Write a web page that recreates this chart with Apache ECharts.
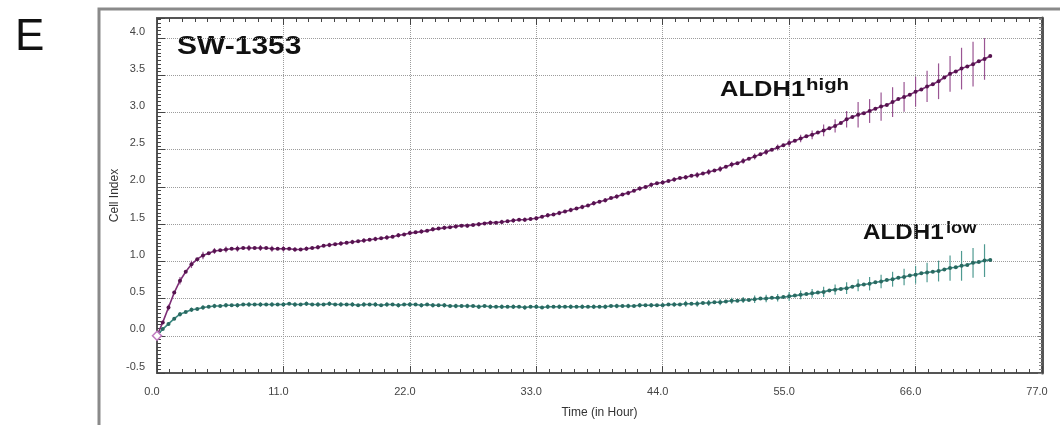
<!DOCTYPE html>
<html>
<head>
<meta charset="utf-8">
<script src="https://cdn.jsdelivr.net/npm/echarts@6/dist/echarts.min.js"></script>
<style>
  html, body { margin: 0; padding: 0; background: #fff; }
  #chart { width: 1060px; height: 425px; }
</style>
</head>
<body>
<div id="chart"></div>
<script>
// time points (h), one reading every half hour
const hours = [
  0, 0.5, 1, 1.5, 2, 2.5, 3, 3.5, 4, 4.5, 5, 5.5, 6, 6.5, 7, 7.5, 8, 8.5, 9, 9.5, 10, 10.5,
  11, 11.5, 12, 12.5, 13, 13.5, 14, 14.5, 15, 15.5, 16, 16.5, 17, 17.5, 18, 18.5, 19, 19.5, 20, 20.5, 21, 21.5,
  22, 22.5, 23, 23.5, 24, 24.5, 25, 25.5, 26, 26.5, 27, 27.5, 28, 28.5, 29, 29.5, 30, 30.5, 31, 31.5, 32, 32.5,
  33, 33.5, 34, 34.5, 35, 35.5, 36, 36.5, 37, 37.5, 38, 38.5, 39, 39.5, 40, 40.5, 41, 41.5, 42, 42.5, 43, 43.5,
  44, 44.5, 45, 45.5, 46, 46.5, 47, 47.5, 48, 48.5, 49, 49.5, 50, 50.5, 51, 51.5, 52, 52.5, 53, 53.5, 54, 54.5,
  55, 55.5, 56, 56.5, 57, 57.5, 58, 58.5, 59, 59.5, 60, 60.5, 61, 61.5, 62, 62.5, 63, 63.5, 64, 64.5, 65, 65.5,
  66, 66.5, 67, 67.5, 68, 68.5, 69, 69.5, 70, 70.5, 71, 71.5, 72, 72.5
]

// ALDH1 high cell index
const aldhHigh = [
  0.00, 0.18, 0.38, 0.58, 0.74, 0.86, 0.96, 1.03, 1.08, 1.11, 1.14, 1.15, 1.16, 1.17, 1.17, 1.18, 1.18, 1.18, 1.18, 1.18, 1.17, 1.17,
  1.17, 1.17, 1.16, 1.16, 1.17, 1.18, 1.19, 1.21, 1.22, 1.23, 1.24, 1.25, 1.26, 1.27, 1.28, 1.29, 1.30, 1.31, 1.32, 1.33, 1.35, 1.36,
  1.38, 1.39, 1.40, 1.41, 1.43, 1.44, 1.45, 1.46, 1.47, 1.48, 1.48, 1.49, 1.50, 1.51, 1.52, 1.52, 1.53, 1.54, 1.55, 1.56, 1.56, 1.57,
  1.58, 1.60, 1.62, 1.63, 1.65, 1.67, 1.69, 1.71, 1.73, 1.75, 1.78, 1.80, 1.82, 1.85, 1.87, 1.90, 1.92, 1.95, 1.98, 2.00, 2.03, 2.05,
  2.06, 2.08, 2.10, 2.12, 2.13, 2.15, 2.16, 2.18, 2.20, 2.22, 2.24, 2.27, 2.30, 2.32, 2.35, 2.38, 2.41, 2.44, 2.47, 2.50, 2.53, 2.56,
  2.59, 2.62, 2.65, 2.68, 2.70, 2.73, 2.76, 2.79, 2.82, 2.86, 2.91, 2.94, 2.97, 2.99, 3.02, 3.05, 3.08, 3.10, 3.14, 3.18, 3.21, 3.24,
  3.28, 3.31, 3.35, 3.38, 3.42, 3.47, 3.52, 3.55, 3.59, 3.62, 3.65, 3.69, 3.72, 3.76
]

// ALDH1 low cell index
const aldhLow = [
  0.00, 0.09, 0.16, 0.23, 0.29, 0.32, 0.35, 0.36, 0.38, 0.39, 0.40, 0.40, 0.41, 0.41, 0.41, 0.42, 0.42, 0.42, 0.42, 0.42, 0.42, 0.42,
  0.42, 0.43, 0.42, 0.42, 0.43, 0.42, 0.42, 0.42, 0.43, 0.42, 0.42, 0.42, 0.42, 0.41, 0.42, 0.42, 0.42, 0.41, 0.42, 0.42, 0.41, 0.42,
  0.42, 0.42, 0.41, 0.42, 0.41, 0.41, 0.41, 0.40, 0.40, 0.40, 0.40, 0.40, 0.39, 0.40, 0.39, 0.39, 0.39, 0.39, 0.39, 0.39, 0.38, 0.39,
  0.39, 0.38, 0.39, 0.39, 0.39, 0.39, 0.39, 0.39, 0.39, 0.39, 0.39, 0.39, 0.39, 0.40, 0.40, 0.40, 0.40, 0.40, 0.41, 0.41, 0.41, 0.41,
  0.41, 0.42, 0.42, 0.42, 0.43, 0.43, 0.43, 0.44, 0.44, 0.45, 0.45, 0.46, 0.47, 0.47, 0.48, 0.48, 0.49, 0.50, 0.50, 0.51, 0.51, 0.52,
  0.53, 0.54, 0.55, 0.56, 0.57, 0.58, 0.59, 0.61, 0.62, 0.63, 0.64, 0.66, 0.68, 0.69, 0.70, 0.72, 0.73, 0.75, 0.76, 0.78, 0.79, 0.81,
  0.82, 0.84, 0.85, 0.86, 0.87, 0.89, 0.91, 0.92, 0.94, 0.95, 0.98, 0.99, 1.01, 1.02
]

// standard deviation, drawn once per full hour (index = hour)
const errHigh = [
  0, 0.04, 0.05, 0.05, 0.05, 0.04, 0.04, 0.04, 0.04, 0.04, 0.04,
  0.04, 0.03, 0.03, 0.03, 0.03, 0.03, 0.03, 0.03, 0.03, 0.03,
  0.03, 0.03, 0.03, 0.03, 0.03, 0.03, 0.03, 0.03, 0.03, 0.03,
  0.03, 0.03, 0.03, 0.03, 0.03, 0.03, 0.03, 0.03, 0.03, 0.03,
  0.03, 0.03, 0.03, 0.03, 0.03, 0.03, 0.04, 0.04, 0.04, 0.04,
  0.04, 0.04, 0.04, 0.04, 0.05, 0.05, 0.06, 0.08, 0.09, 0.11,
  0.17, 0.16, 0.19, 0.20, 0.20, 0.20, 0.21, 0.24, 0.24, 0.28, 0.30, 0.28
]
const errLow = [
  0, 0.02, 0.03, 0.03, 0.03, 0.03, 0.03, 0.03, 0.03, 0.03, 0.03,
  0.03, 0.03, 0.03, 0.03, 0.03, 0.03, 0.03, 0.03, 0.03, 0.03,
  0.03, 0.03, 0.03, 0.03, 0.03, 0.03, 0.03, 0.03, 0.03, 0.03,
  0.03, 0.03, 0.03, 0.03, 0.03, 0.03, 0.03, 0.03, 0.03, 0.03,
  0.03, 0.03, 0.03, 0.03, 0.03, 0.04, 0.04, 0.04, 0.04, 0.04,
  0.04, 0.05, 0.05, 0.05, 0.06, 0.06, 0.06, 0.07, 0.07, 0.08,
  0.08, 0.09, 0.09, 0.10, 0.11, 0.12, 0.13, 0.14, 0.17, 0.20, 0.20, 0.22
]

const yTicks = { min: -0.5, max: 4.27, step: 0.5 }
const xTicks = { min: 0, max: 77, step: 11 }

const font = "'Liberation Sans', Arial, sans-serif"
const purple = { line: "#7e2f77", dot: "#56134f", bar: "#9a5593" }
const teal = { line: "#3c8a82", dot: "#2a6961", bar: "#4f9a91" }

function lineData(vals) {
  return hours.map(function (h, i) {
    return [h, vals[i]]
  })
}

function errData(vals, errs) {
  return errs.map(function (e, h) {
    let v = vals[hours.indexOf(h)]
    return [h, v - e, v + e]
  })
}

function errSeries(vals, errs, color) {
  return {
    type: "custom",
    silent: true,
    data: errData(vals, errs),
    encode: { x: 0, y: [1, 2] },
    renderItem: function (params, api) {
      let p1 = api.coord([api.value(0), api.value(1)])
      let p2 = api.coord([api.value(0), api.value(2)])
      return {
        type: "line",
        shape: { x1: p1[0], y1: p1[1], x2: p2[0], y2: p2[1] },
        style: { stroke: color, lineWidth: 1.2 },
      }
    },
  }
}

function curve(vals, c) {
  return {
    type: "line",
    data: lineData(vals),
    symbol: "circle",
    symbolSize: 4,
    showSymbol: true,
    lineStyle: { color: c.line, width: 1.6 },
    itemStyle: { color: c.dot },
    z: 3,
  }
}

// bold label text, a bit wider like the original figure
function label(text, x, y, size, sx) {
  return {
    type: "text",
    x: x,
    y: y,
    scaleX: sx,
    style: { text: text, fill: "#111", font: "bold " + size + "px " + font, verticalAlign: "middle" },
  }
}

let highLine = curve(aldhHigh, purple)
// hollow start marker
highLine.data[0] = {
  value: [hours[0], aldhHigh[0]],
  symbol: "diamond",
  symbolSize: 9,
  itemStyle: { color: "#fff", borderColor: "#c07ac0", borderWidth: 1.5 },
}

let myChart = echarts.init(document.getElementById("chart"))

myChart.setOption({
  animation: false,
  backgroundColor: "#fff",
  grid: { left: 157, right: 18, top: 18, bottom: 52, outerBoundsMode: "none" },
  xAxis: [
    {
      type: "value",
      min: xTicks.min,
      max: xTicks.max,
      interval: xTicks.step,
      name: "Time (in Hour)",
      nameLocation: "middle",
      nameGap: 34,
      nameMoveOverlap: false,
      nameTextStyle: { color: "#333", fontSize: 12, fontFamily: font },
      axisLine: { show: true, onZero: false, lineStyle: { color: "#555", width: 2 } },
      axisTick: { show: true, inside: true, length: 7, lineStyle: { color: "#444" } },
      minorTick: { show: true, splitNumber: 10, length: 4, lineStyle: { color: "#444" } },
      axisLabel: {
        formatter: function (v) { return v.toFixed(1) },
        color: "#444",
        fontSize: 11,
        fontFamily: font,
        margin: 13,
        padding: [0, 10, 0, 0],
      },
      splitLine: { show: true, lineStyle: { color: "#9c9c9c", type: "dotted" } },
    },
    {
      type: "value",
      position: "top",
      min: xTicks.min,
      max: xTicks.max,
      interval: xTicks.step,
      axisLine: { show: true, onZero: false, lineStyle: { color: "#555", width: 2 } },
      axisTick: { show: true, inside: true, length: 7, lineStyle: { color: "#444" } },
      minorTick: { show: true, splitNumber: 10, length: 4, lineStyle: { color: "#444" } },
      axisLabel: { show: false },
      splitLine: { show: false },
    },
  ],
  yAxis: [
    {
      type: "value",
      min: yTicks.min,
      max: yTicks.max,
      interval: yTicks.step,
      name: "Cell Index",
      nameLocation: "middle",
      nameGap: 36,
      nameMoveOverlap: false,
      nameTextStyle: { color: "#333", fontSize: 12, fontFamily: font },
      axisLine: { show: true, onZero: false, lineStyle: { color: "#555", width: 2 } },
      axisTick: { show: true, inside: true, length: 8, lineStyle: { color: "#444" } },
      minorTick: { show: true, splitNumber: 10, length: 4, lineStyle: { color: "#444" } },
      axisLabel: {
        formatter: function (v) { return v.toFixed(1) },
        showMaxLabel: false,
        color: "#444",
        fontSize: 11,
        fontFamily: font,
        margin: 12,
        verticalAlign: "bottom",
        padding: [0, 0, 1, 0],
      },
      splitLine: { show: true, lineStyle: { color: "#9c9c9c", type: "dotted" } },
    },
    {
      type: "value",
      position: "right",
      min: yTicks.min,
      max: yTicks.max,
      interval: yTicks.step,
      axisLine: { show: true, onZero: false, lineStyle: { color: "#555", width: 3 } },
      axisTick: { show: true, inside: true, length: 4, lineStyle: { color: "#777" } },
      minorTick: { show: true, splitNumber: 10, length: 3, lineStyle: { color: "#888" } },
      axisLabel: { show: false },
      splitLine: { show: false },
    },
  ],
  graphic: [
    {
      type: "rect",
      z: -10,
      shape: { x: 99, y: 9, width: 1000, height: 500 },
      style: { fill: null, stroke: "#8a8a8a", lineWidth: 3 },
    },
    {
      type: "text",
      x: 15,
      y: 38,
      style: { text: "E", fill: "#111", font: "44px " + font, verticalAlign: "middle" },
    },
    label("SW-1353", 177, 47, 25, 1.2),
    label("ALDH1", 720, 90, 22, 1.16),
    label("high", 806, 85, 17, 1.2),
    label("ALDH1", 863, 233, 22, 1.1),
    label("low", 946, 229, 16, 1.15),
  ],
  series: [
    errSeries(aldhLow, errLow, teal.bar),
    errSeries(aldhHigh, errHigh, purple.bar),
    curve(aldhLow, teal),
    highLine,
  ],
})
</script>
</body>
</html>
